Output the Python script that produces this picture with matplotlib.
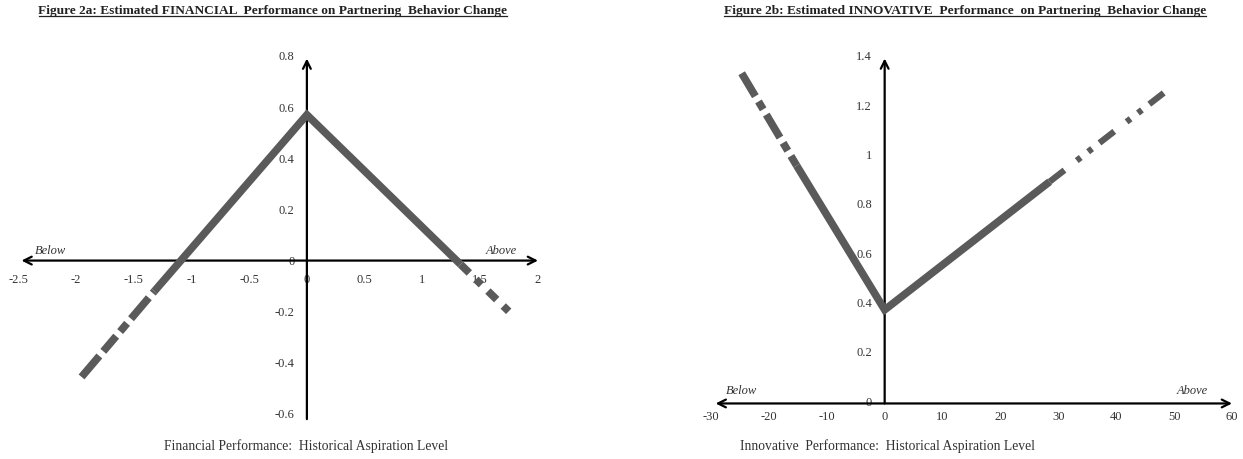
import matplotlib.pyplot as plt

plt.rcParams['font.family'] = ['Liberation Serif', 'DejaVu Serif']

# Figure 2a: financial performance (piecewise estimate)
fin_left_tail_x = [-1.95, -1.32]
fin_left_tail_y = [-0.455, -0.12]
fin_core_x = [-1.32, 0, 1.33]
fin_core_y = [-0.12, 0.57, -0.015]
fin_right_tail_x = [1.33, 1.75]
fin_right_tail_y = [-0.015, -0.20]
fin_xticks = [-2.5, -2, -1.5, -1, -0.5, 0, 0.5, 1, 1.5, 2]
fin_yticks = [-0.6, -0.4, -0.2, 0, 0.2, 0.4, 0.6, 0.8]

# Figure 2b: innovative performance
inn_left_tail_x = [-24.7, -15.2]
inn_left_tail_y = [1.33, 0.955]
inn_core_x = [-15.2, 0, 28.5]
inn_core_y = [0.955, 0.37, 0.89]
inn_right_tail_x = [28.5, 48.2]
inn_right_tail_y = [0.89, 1.25]
inn_xticks = [-30, -20, -10, 0, 10, 20, 30, 40, 50, 60]
inn_yticks = [0, 0.2, 0.4, 0.6, 0.8, 1, 1.2, 1.4]

line_col = '#5a5a5a'
txt_col = '#333333'

fig = plt.figure(figsize=(12.43, 4.59), dpi=100)
ax1 = fig.add_axes([18/1243, 45/459, 520/1243, 358/459])
ax2 = fig.add_axes([711/1243, 58/459, 521/1243, 345/459])


def fmt(v):
    return '%g' % v


def setup(ax, xt, yt, xlim, ylim, xpad, ypad):
    ax.set_xlim(xlim)
    ax.set_ylim(ylim)
    for s in ['top', 'right']:
        ax.spines[s].set_visible(False)
    ax.spines['left'].set_position(('data', 0))
    ax.spines['bottom'].set_position(('data', 0))
    ax.spines['left'].set_color('none')
    ax.spines['bottom'].set_color('none')
    ax.set_xticks(xt)
    ax.set_yticks(yt)
    ax.set_xticklabels([fmt(v) for v in xt])
    ax.set_yticklabels([fmt(v) for v in yt])
    ax.tick_params(axis='x', length=0, pad=xpad, labelsize=9, labelcolor=txt_col)
    ax.tick_params(axis='y', length=0, pad=ypad, labelsize=9, labelcolor=txt_col)
    ax.patch.set_visible(False)


setup(ax1, fin_xticks, fin_yticks, (-2.5, 2.0), (-0.6, 0.8), 10, 9)
setup(ax2, inn_xticks, inn_yticks, (-30, 60), (0, 1.4), 7, 9)

# hand-drawn style axes with arrow heads
arr = dict(color='black', lw=1.6, shrinkA=0, shrinkB=0, mutation_scale=14)
ax1.annotate('', xy=(2.0, 0), xytext=(-2.47, 0),
             arrowprops=dict(arrowstyle='<->', **arr), annotation_clip=False)
ax1.annotate('', xy=(0, 0.79), xytext=(0, -0.62),
             arrowprops=dict(arrowstyle='->', **arr), annotation_clip=False)
ax2.annotate('', xy=(60, -0.01), xytext=(-29.2, -0.01),
             arrowprops=dict(arrowstyle='<->', **arr), annotation_clip=False)
ax2.annotate('', xy=(0, 1.39), xytext=(0, -0.01),
             arrowprops=dict(arrowstyle='->', **arr), annotation_clip=False)

# piecewise lines
ax1.plot(fin_core_x, fin_core_y, color=line_col, lw=5.5, solid_joinstyle='miter',
         solid_capstyle='butt', zorder=3)
ax1.plot(fin_left_tail_x, fin_left_tail_y, color=line_col, lw=5.5,
         dashes=(3.6, 0.8, 2.6, 0.8, 1.4, 0.8), zorder=3)
ax1.plot(fin_right_tail_x, fin_right_tail_y, color=line_col, lw=5.5,
         dashes=(1.6, 1.2, 1.0, 1.2), zorder=3)

ax2.plot(inn_core_x, inn_core_y, color=line_col, lw=5.5, solid_joinstyle='miter',
         solid_capstyle='butt', zorder=3)
ax2.plot(inn_left_tail_x, inn_left_tail_y, color=line_col, lw=5.5,
         dashes=(3.5, 0.8, 1.2, 0.8), zorder=3)
ax2.plot(inn_right_tail_x, inn_right_tail_y, color=line_col, lw=4.5,
         dashes=(3.0, 2.5, 0.8, 1.5, 0.8, 1.5), zorder=3)

# Below / Above labels
ax1.text(-2.35, 0.025, 'Below', style='italic', fontsize=9, color=txt_col)
ax1.text(1.55, 0.025, 'Above', style='italic', fontsize=9, color=txt_col)
ax2.text(-27.5, 0.03, 'Below', style='italic', fontsize=9, color=txt_col)
ax2.text(50.5, 0.03, 'Above', style='italic', fontsize=9, color=txt_col)

# titles (bold, underlined)
t1 = fig.text(273/1243, 1 - 11/459, 'Figure 2a: Estimated FINANCIAL  Performance on Partnering  Behavior Change',
              ha='center', va='center', fontsize=9.6, fontweight='bold', color='#222222')
t2 = fig.text(965/1243, 1 - 11/459, 'Figure 2b: Estimated INNOVATIVE  Performance  on Partnering  Behavior Change',
              ha='center', va='center', fontsize=9.6, fontweight='bold', color='#222222')
fig.canvas.draw()
r = fig.canvas.get_renderer()
for t in (t1, t2):
    bb = t.get_window_extent(r).transformed(fig.transFigure.inverted())
    fig.add_artist(plt.Line2D([bb.x0, bb.x1], [bb.y0 + 0.002, bb.y0 + 0.002],
                              transform=fig.transFigure, color='#222222', lw=0.9))

fig.text(306/1243, 1 - 446/459, 'Financial Performance:  Historical Aspiration Level',
         ha='center', va='center', fontsize=9.8, color=txt_col)
fig.text(887/1243, 1 - 446/459, 'Innovative  Performance:  Historical Aspiration Level',
         ha='center', va='center', fontsize=9.8, color=txt_col)

fig.savefig('out.png', dpi=100, facecolor='white')
